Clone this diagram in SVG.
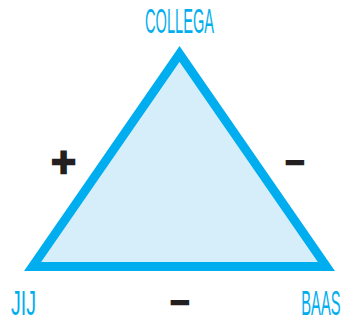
<svg xmlns="http://www.w3.org/2000/svg" width="343" height="321" viewBox="0 0 343 321">
  <style>
    .label { font-family: "Liberation Sans", Arial, sans-serif; font-size: 35px; fill: #00AEEF; }
    .sign { font-family: "DejaVu Sans", sans-serif; font-weight: bold; fill: #231F20; stroke: #231F20; text-anchor: middle; }
    .plus { font-size: 33px; stroke-width: 2.6; }
    .minus { font-size: 26px; stroke-width: 2.2; }
  </style>
  <rect width="343" height="321" fill="#FFFFFF"/>
  <!-- the relationship triangle -->
  <g id="triangle">
    <polygon points="179.5,54 32.6,266.5 326.4,266.5" fill="#D6EDFA" stroke="#00AEEF" stroke-width="9" stroke-linejoin="miter" stroke-miterlimit="10"/>
  </g>
  <!-- condensed labels: horizontal squeeze via scale -->
  <g id="collega">
    <text class="label" transform="translate(179.5,32.5) scale(0.417,1)" text-anchor="middle">COLLEGA</text>
  </g>
  <g id="jij">
    <text class="label" transform="translate(11,315) scale(0.56,1)">JIJ</text>
  </g>
  <g id="baas">
    <text class="label" transform="translate(340.5,315) scale(0.42,1)" text-anchor="end">BAAS</text>
  </g>
  <!-- edge signs -->
  <g id="connectors">
    <text class="sign plus" x="63.5" y="173">+</text>
    <text class="sign minus" x="295" y="171">−</text>
    <text class="sign minus" x="180" y="311">−</text>
  </g>
</svg>
